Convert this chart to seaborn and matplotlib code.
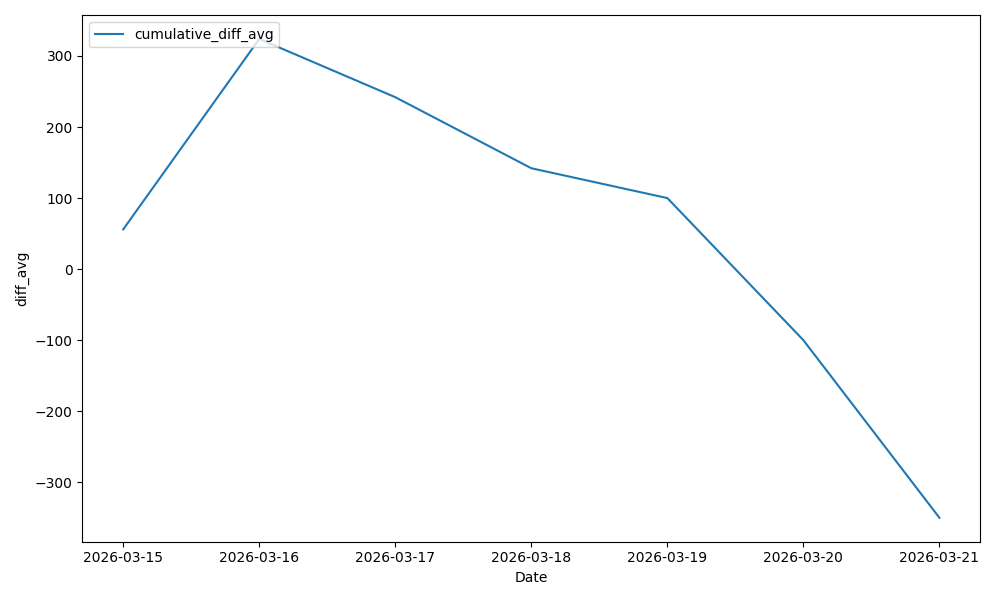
import pandas as pd
import seaborn as sns
import matplotlib.pyplot as plt

# values
dates = ["2026-03-15", "2026-03-16", "2026-03-17", "2026-03-18",
         "2026-03-19", "2026-03-20", "2026-03-21"]
diff_avg = [56, 324, 242, 142, 100, -100, -350]

df = pd.DataFrame({"Date": dates, "diff_avg": diff_avg})

fig, ax = plt.subplots(figsize=(10, 6), dpi=100)
sns.lineplot(data=df, x="Date", y="diff_avg", ax=ax, label="cumulative_diff_avg")
ax.legend(loc="upper left")
ax.set_xlabel("Date")
ax.set_ylabel("diff_avg")

plt.tight_layout()
plt.savefig("out.png")
